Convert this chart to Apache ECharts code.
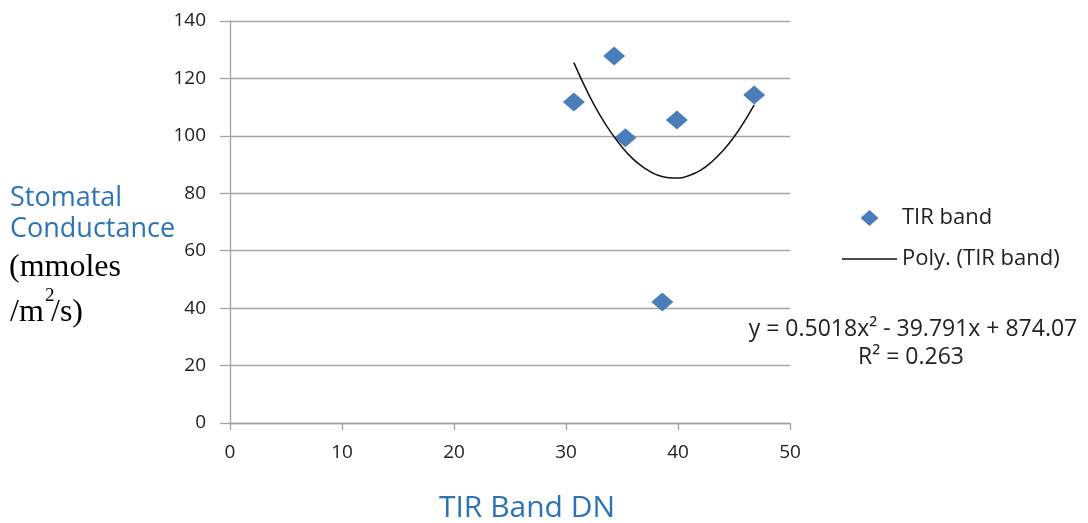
<!DOCTYPE html>
<html>
<head>
<meta charset="utf-8">
<script src="https://cdn.jsdelivr.net/npm/echarts@6/dist/echarts.min.js"></script>
<style>html,body{margin:0;padding:0;background:#fff;}#c{width:1088px;height:523px;}</style>
</head>
<body>
<div id="c"></div>
<script>
// Observed data points (TIR Band DN, Stomatal Conductance)
const tirX = [30.7, 34.3, 35.3, 38.6, 39.9, 46.8];
const condY = [111.8, 127.8, 99.3, 42.1, 105.5, 114.2];
// Trendline values
const trendX = [30.7, 32, 33, 34, 35, 36, 37, 38, 39, 40, 41, 42, 43, 44, 45, 46, 46.8];
const trendY = [125.5, 114.6, 107.4, 101.3, 96.1, 91.9, 88.8, 86.6, 85.5, 85.3, 86.2, 88.0, 90.9, 94.8, 99.6, 105.5, 110.8];
const xTicks = [0, 50, 10];   // min, max, interval
const yTicks = [0, 140, 20];
const seriesNames = ['TIR band', 'Poly. (TIR band)'];
const eqText = 'y = 0.5018x² - 39.791x + 874.07';
const r2Text = 'R² = 0.263';

const chart = echarts.init(document.getElementById('c'), null, {renderer: 'canvas'});
const blue = '#2e74b5';
const font = 'Open Sans';
const gridColor = '#a3a3a3';
chart.setOption({
  animation: false,
  backgroundColor: '#fff',
  grid: {left: 230, right: 298, top: 21, bottom: 100, containLabel: false},
  xAxis: {
    type: 'value', min: xTicks[0], max: xTicks[1], interval: xTicks[2],
    axisLine: {show: true, lineStyle: {color: gridColor, width: 1.3}},
    axisTick: {show: true, length: 7, lineStyle: {color: gridColor, width: 1.3}},
    splitLine: {show: false},
    axisLabel: {color: '#222', fontFamily: font, fontSize: 19, margin: 20}
  },
  yAxis: {
    type: 'value', min: yTicks[0], max: yTicks[1], interval: yTicks[2],
    axisLine: {show: true, lineStyle: {color: gridColor, width: 1.3}},
    axisTick: {show: true, length: 10, lineStyle: {color: gridColor, width: 1.3}},
    splitLine: {show: true, lineStyle: {color: gridColor, width: 1.3}},
    axisLabel: {color: '#222', fontFamily: font, fontSize: 19, margin: 24}
  },
  legend: {
    orient: 'vertical', left: 842, top: 207, padding: 0,
    itemWidth: 55, itemHeight: 16, itemGap: 19, symbolKeepAspect: true,
    textStyle: {color: '#222', fontFamily: font, fontSize: 22},
    data: [
      {name: seriesNames[0], icon: 'path://M0,0 L9,8 L0,16 L-9,8 Z'},
      {name: seriesNames[1], icon: 'path://M0,0 L550,0 L550,14 L0,14 Z'}
    ]
  },
  series: [
    {
      name: seriesNames[0], type: 'scatter', symbol: 'diamond', symbolSize: [22, 19],
      itemStyle: {color: '#4a7ebb', opacity: 1},
      data: tirX.map((x, i) => [x, condY[i]])
    },
    {
      name: seriesNames[1], type: 'line', smooth: true, symbol: 'none', showSymbol: false,
      lineStyle: {color: '#111', width: 1.5},
      itemStyle: {color: '#111'},
      data: trendX.map((x, i) => [x, trendY[i]])
    }
  ],
  graphic: [
    {type: 'text', left: 10, top: 185, style: {text: 'Stomatal', fontFamily: font, fontSize: 27, fill: blue}},
    {type: 'text', left: 10, top: 216, style: {text: 'Conductance', fontFamily: font, fontSize: 27, fill: blue}},
    {type: 'text', left: 9, top: 252, style: {text: '(mmoles', fontFamily: 'Liberation Serif', fontSize: 32, fill: '#000'}},
    {type: 'text', left: 10, top: 297, style: {text: '/m', fontFamily: 'Liberation Serif', fontSize: 32, fill: '#000'}},
    {type: 'text', left: 45, top: 287, style: {text: '2', fontFamily: 'Liberation Serif', fontSize: 19, fill: '#000'}},
    {type: 'text', left: 51, top: 297, style: {text: '/s)', fontFamily: 'Liberation Serif', fontSize: 32, fill: '#000'}},
    {type: 'text', x: 527, y: 508, style: {text: 'TIR Band DN', fontFamily: font, fontSize: 30, fill: blue, textAlign: 'center', textVerticalAlign: 'middle'}},
    {type: 'text', x: 913, y: 329, style: {text: eqText, fontFamily: font, fontSize: 23, fill: '#222', textAlign: 'center', textVerticalAlign: 'middle'}},
    {type: 'text', x: 911, y: 357, style: {text: r2Text, fontFamily: font, fontSize: 23, fill: '#222', textAlign: 'center', textVerticalAlign: 'middle'}}
  ]
});
</script>
</body>
</html>
